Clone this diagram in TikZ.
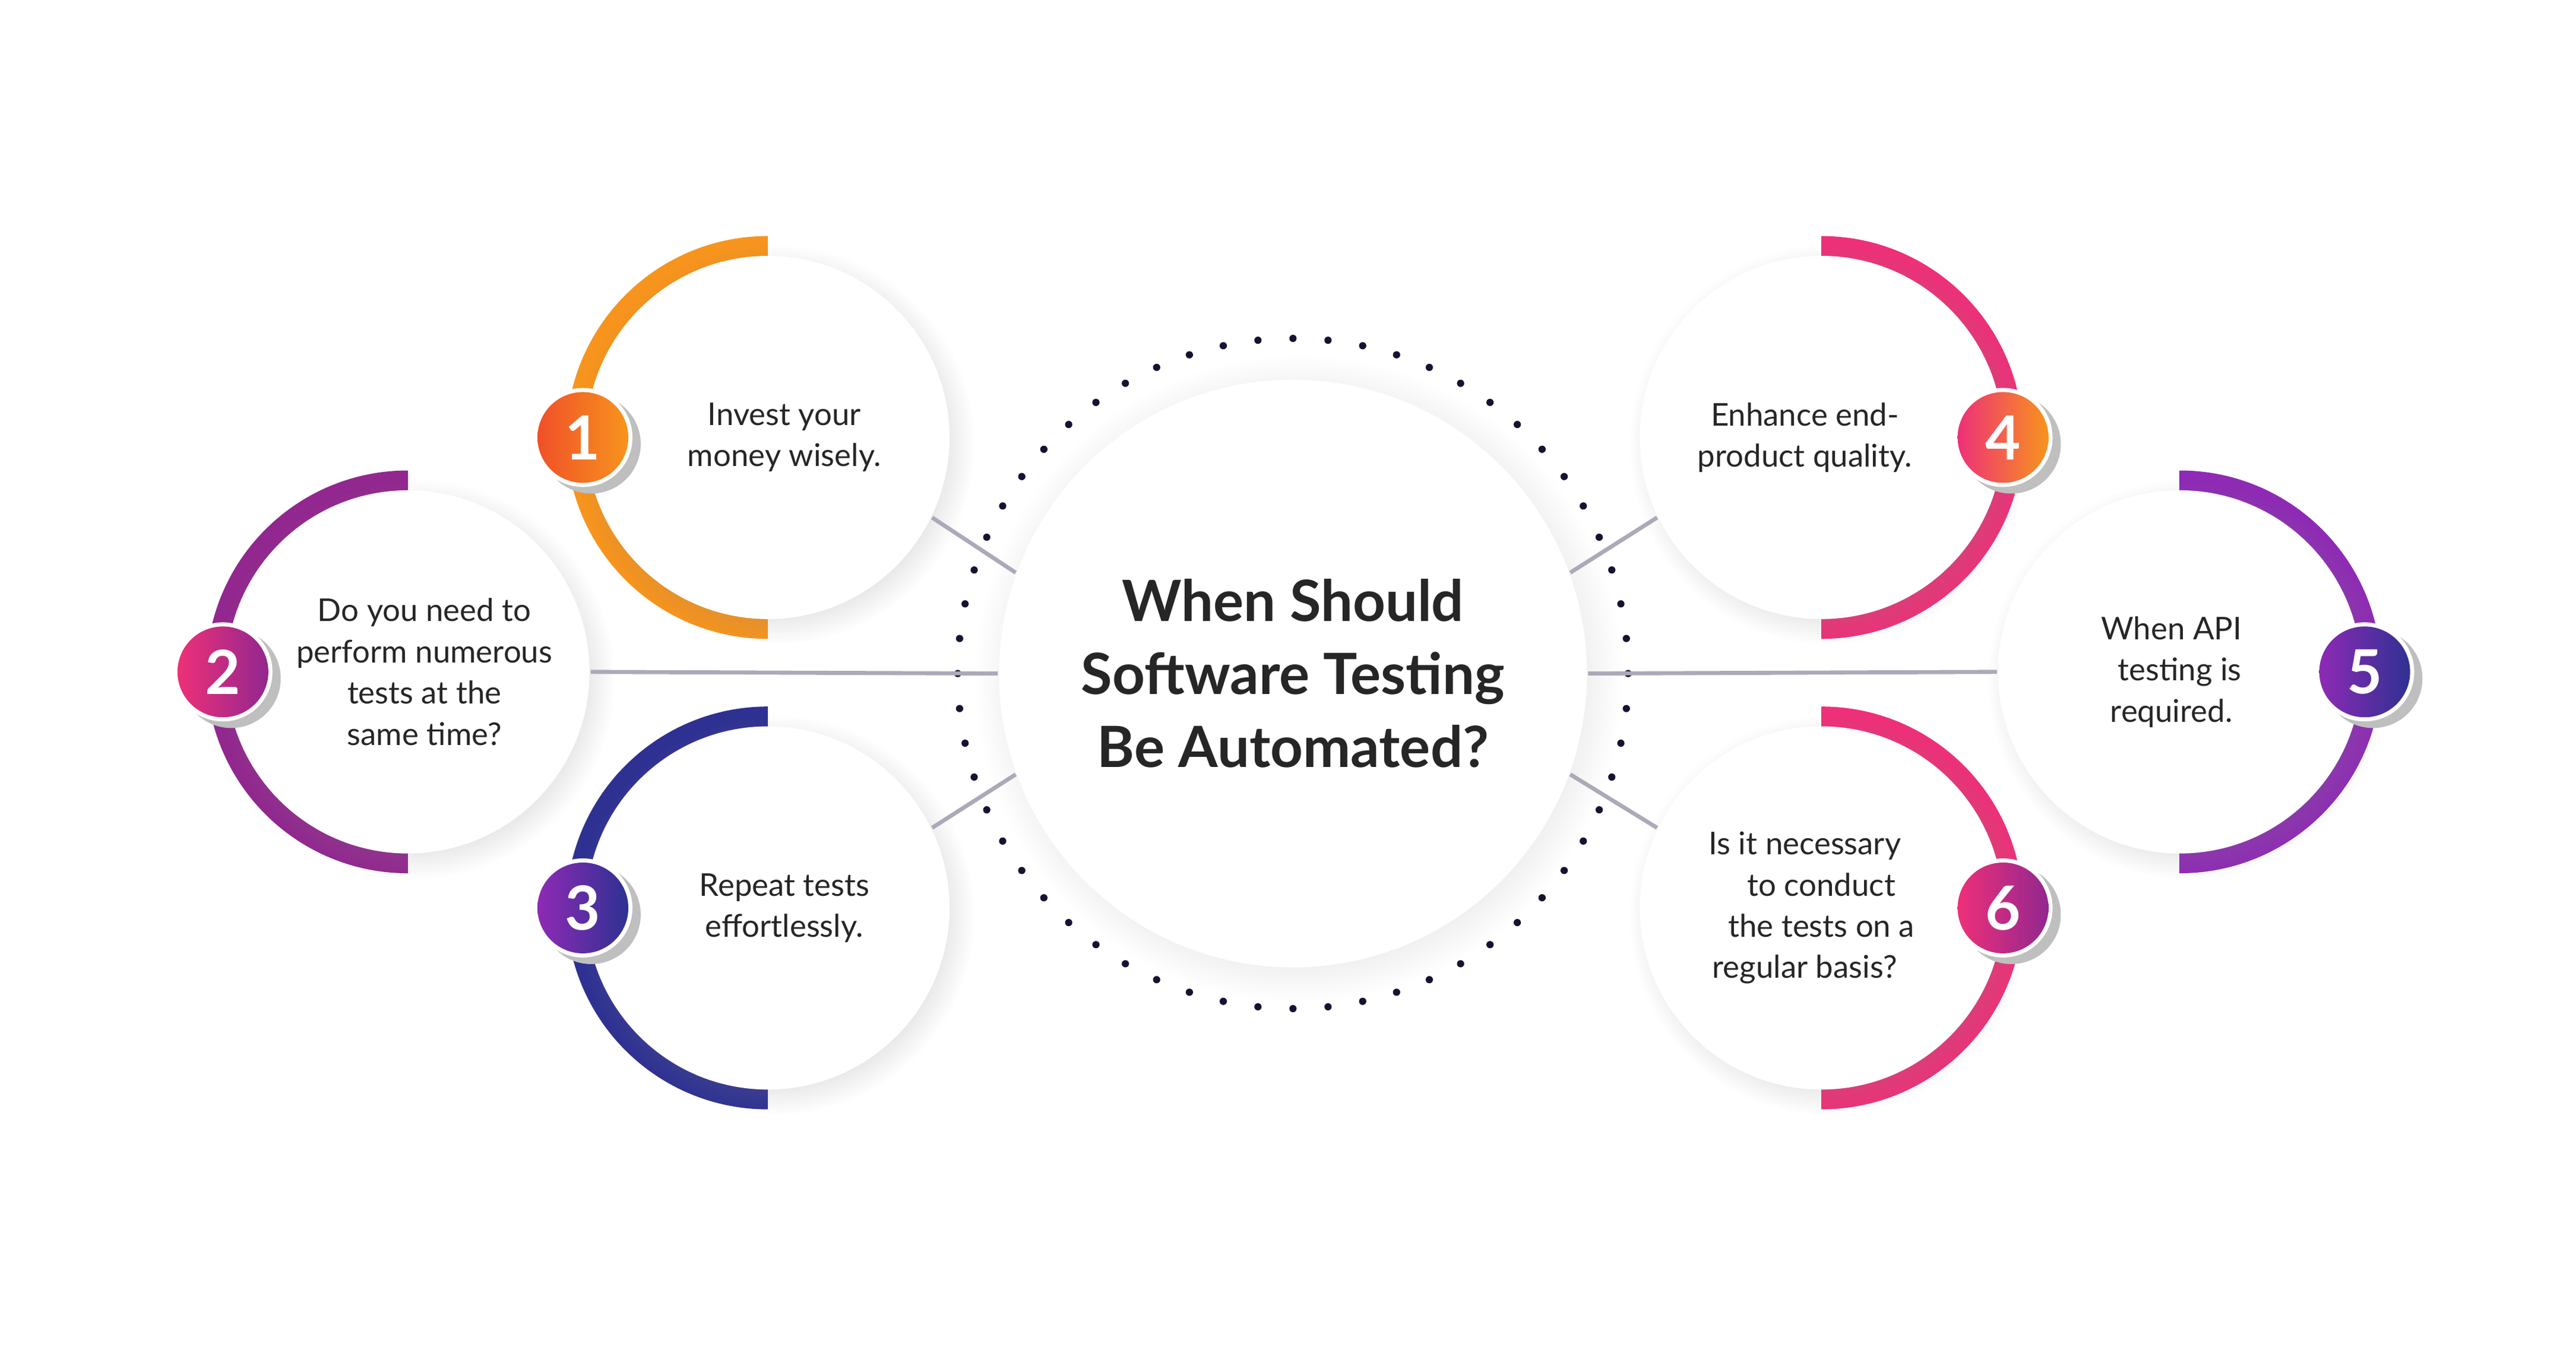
\documentclass[tikz,border=0pt]{standalone}
\usepackage{fontspec}
\setmainfont{Lato}
\usetikzlibrary{shadows,calc}
\definecolor{tOrange}{RGB}{247,148,29}
\definecolor{tRed}{RGB}{240,80,40}
\definecolor{tPink}{RGB}{238,48,120}
\definecolor{tMagenta}{RGB}{146,39,143}
\definecolor{tPurple}{RGB}{142,42,181}
\definecolor{tBlue}{RGB}{46,49,146}
\definecolor{tLine}{RGB}{170,170,185}
\definecolor{tDot}{RGB}{20,20,50}
\tikzset{
  bubble/.style={circle,fill=white,minimum size=2.2cm,inner sep=0pt,align=center,
    font=\fontsize{5.4}{7.1}\selectfont,text=black!85,
    circular drop shadow={opacity=0.18,shadow xshift=0.04cm,shadow yshift=-0.04cm}},
  badge/.style={circle,minimum size=0.55cm,inner sep=0pt,text=white,
    font=\fontsize{10.5}{10.5}\selectfont\bfseries},
  link/.style={tLine,line width=0.7pt}
}
% half ring: centre, side (1 left, -1 right), top, middle, bottom colour
\newcommand{\halfring}[5]{
  \shade[top color=#3,middle color=#4,bottom color=#5]
    ($(#1)+(0,1.22)$) arc[start angle=90,delta angle=#2*180,radius=1.22]
    -- ++(0,0.14) arc[start angle=270,delta angle=-#2*180,radius=1.08] -- cycle;
}
\begin{document}
\begin{tikzpicture}
\useasboundingbox (0,0) rectangle (15.6,-8.254);

% centre
\node[circle,fill=white,minimum size=3.56cm,inner sep=0pt,align=center,
  font=\fontsize{9.8}{12.6}\selectfont\bfseries,text=black!85,
  circular drop shadow={opacity=0.15,shadow xshift=0.03cm,shadow yshift=-0.03cm}]
  (center) at (7.83,-4.08) {When Should\\Software Testing\\Be Automated?};
\foreach \a in {0,6,...,354}
  \fill[tDot] (center) ++(\a:2.03) circle (0.022);

% rings
\halfring{4.65,-2.65}{1}{tOrange}{tRed}{tOrange}
\halfring{2.47,-4.07}{1}{tMagenta}{tPink}{tMagenta}
\halfring{4.65,-5.50}{1}{tBlue}{tPurple}{tBlue}
\halfring{11.03,-2.65}{-1}{tPink}{tOrange}{tPink}
\halfring{13.20,-4.07}{-1}{tPurple}{tBlue}{tPurple}
\halfring{11.03,-5.50}{-1}{tPink}{tMagenta}{tPink}

% bubbles
\node[bubble] (c1) at (4.65,-2.65) {\hspace*{0.2cm}Invest your\\\hspace*{0.2cm}money wisely.};
\node[bubble] (c2) at (2.47,-4.07) {\hspace*{0.2cm}Do you need to\\\hspace*{0.2cm}perform numerous\\\hspace*{0.2cm}tests at the\\\hspace*{0.2cm}same time?};
\node[bubble] (c3) at (4.65,-5.50) {\hspace*{0.2cm}Repeat tests\\\hspace*{0.2cm}effortlessly.};
\node[bubble] (c4) at (11.03,-2.65) {Enhance end-\hspace*{0.2cm}\\product quality.\hspace*{0.2cm}};
\node[bubble] (c5) at (13.20,-4.07) {When API\hspace*{0.1cm}\\testing is\hspace*{0.1cm}\\required.\hspace*{0.1cm}};
\node[bubble] (c6) at (11.03,-5.50) {Is it necessary\hspace*{0.2cm}\\to conduct\hspace*{0.2cm}\\the tests on a\hspace*{0.2cm}\\regular basis?\hspace*{0.2cm}};

% badges
\foreach \n/\x/\y/\ca/\cb in {1/3.53/-2.65/tRed/tOrange, 2/1.35/-4.07/tPink/tMagenta,
    3/3.53/-5.50/tPurple/tBlue, 4/12.13/-2.65/tPink/tOrange,
    5/14.32/-4.07/tPurple/tBlue, 6/12.13/-5.50/tPink/tMagenta} {
  \fill[black!25] (\x+0.05,\y-0.04) circle (0.3);
  \fill[white] (\x,\y) circle (0.3);
  \node[badge,left color=\ca,right color=\cb] (b\n) at (\x,\y) {\n};
}

% connectors
\draw[link] (c1.-26) -- (center.160);
\draw[link] (c2.east) -- (center.west);
\draw[link] (c3.26) -- (center.200);
\draw[link] (c4.206) -- (center.20);
\draw[link] (c5.west) -- (center.east);
\draw[link] (c6.154) -- (center.-20);
\end{tikzpicture}
\end{document}
